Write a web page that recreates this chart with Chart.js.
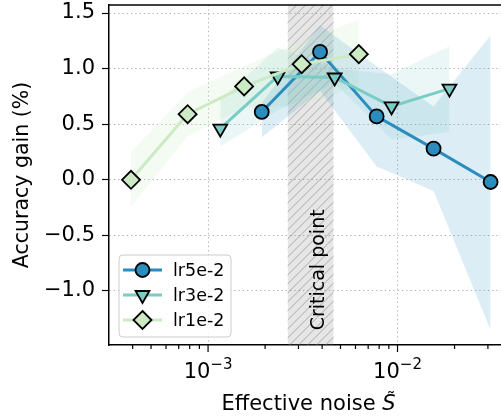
<!DOCTYPE html>
<html>
<head>
<meta charset="utf-8">
<script src="https://cdn.jsdelivr.net/npm/chart.js@4.4.1/dist/chart.umd.min.js"></script>
<style>
  html, body { margin: 0; padding: 0; background: #fff; overflow: hidden; }
  #wrap { width: 501px; height: 417px; overflow: hidden; }
  canvas { display: block; }
</style>
</head>
<body>
<div id="wrap"><canvas id="chart" width="512" height="417"></canvas></div>
<script>
// runs, in legend order
const seriesNames = ["lr5e-2", "lr3e-2", "lr1e-2"];

const noise5 = [1.92e-3, 3.9e-3, 7.76e-3, 1.55e-2, 3.1e-2];
const gain5 = [0.61, 1.15, 0.57, 0.28, -0.02];
const upper5 = [0.69, 1.39, 1.02, 0.66, 1.30];
const lower5 = [0.38, 0.80, 0.12, -0.10, -1.35];

const noise3 = [1.16e-3, 2.33e-3, 4.66e-3, 9.3e-3, 1.88e-2];
const gain3 = [0.46, 0.93, 0.92, 0.66, 0.82];
const upper3 = [0.72, 1.19, 1.00, 0.95, 1.20];
const lower3 = [0.30, 0.62, 0.87, 0.36, 0.43];

const noise1 = [3.92e-4, 7.8e-4, 1.55e-3, 3.12e-3, 6.25e-3];
const gain1 = [0.0, 0.59, 0.84, 1.04, 1.13];
const upper1 = [0.25, 0.79, 1.02, 1.25, 1.44];
const lower1 = [-0.24, 0.39, 0.65, 0.67, 0.85];

// shaded "critical point" interval on the noise axis
const criticalRange = [2.63e-3, 4.6e-3];

const xRange = [3.12e-4, 3.83e-2];
const yRange = [-1.486, 1.572];
const yTicks = [-1.0, -0.5, 0.0, 0.5, 1.0, 1.5];
const xMajorTicks = [1e-3, 1e-2];

const colors = ["#2b8cbe", "#7bccc4", "#ccebc5"];
const bandColors = ["rgba(43,140,190,0.16)", "rgba(123,204,196,0.16)", "rgba(204,235,197,0.22)"];
const markers = [
  { style: "circle", radius: 7, rotation: 0 },
  { style: "triangle", radius: 8, rotation: 180 },
  { style: "rectRot", radius: 9, rotation: 0 },
];

const FONT = '"DejaVu Sans", sans-serif';
const GRID_DASH = [1.3, 3];

function pts(xs, ys) {
  return xs.map((x, i) => ({ x: x, y: ys[i] }));
}

function minorTicks() {
  const out = [];
  for (let e = -4; e <= -2; e++) {
    for (let m = 2; m <= 9; m++) {
      const v = m * Math.pow(10, e);
      if (v >= xRange[0] && v <= xRange[1]) out.push(v);
    }
  }
  return out;
}

function isMajor(v) {
  return xMajorTicks.some(t => Math.abs(v - t) / t < 1e-6);
}

const noises = [noise5, noise3, noise1];
const gains = [gain5, gain3, gain1];
const uppers = [upper5, upper3, upper1];
const lowers = [lower5, lower3, lower1];

const datasets = [];
// lines: lr1e-2 on top, lr5e-2 at the bottom
for (let i = 0; i < 3; i++) {
  const m = markers[i];
  datasets.push({
    label: seriesNames[i],
    data: pts(noises[i], gains[i]),
    borderColor: colors[i],
    borderWidth: 3,
    backgroundColor: colors[i],
    pointStyle: m.style,
    pointRadius: m.radius,
    pointRotation: m.rotation,
    pointBackgroundColor: colors[i],
    pointBorderColor: "#000",
    pointBorderWidth: 1.8,
    fill: false,
    tension: 0,
    order: 2 - i,
  });
}
// spread bands
for (let i = 0; i < 3; i++) {
  const lowIndex = datasets.length + 1;
  datasets.push({
    data: pts(noises[i], uppers[i]),
    borderWidth: 0,
    pointRadius: 0,
    backgroundColor: bandColors[i],
    fill: lowIndex,
    order: 10 + i,
  });
  datasets.push({
    data: pts(noises[i], lowers[i]),
    borderWidth: 0,
    pointRadius: 0,
    fill: false,
    order: 10 + i,
  });
}

function drawMarker(ctx, m, color, x, y) {
  ctx.save();
  ctx.fillStyle = color;
  ctx.strokeStyle = "#000";
  ctx.lineWidth = 1.8;
  ctx.beginPath();
  const r = m.radius;
  if (m.style === "circle") {
    ctx.arc(x, y, r, 0, Math.PI * 2);
  } else if (m.style === "triangle") {
    const h = r * Math.sqrt(3) / 2;
    ctx.moveTo(x, y + r);
    ctx.lineTo(x - h, y - r / 2);
    ctx.lineTo(x + h, y - r / 2);
  } else {
    ctx.moveTo(x, y - r);
    ctx.lineTo(x + r, y);
    ctx.lineTo(x, y + r);
    ctx.lineTo(x - r, y);
  }
  ctx.closePath();
  ctx.fill();
  ctx.stroke();
  ctx.restore();
}

const decorations = {
  id: "decorations",
  beforeDatasetsDraw(chart) {
    const { ctx, chartArea: a, scales: { x, y } } = chart;
    const x0 = x.getPixelForValue(criticalRange[0]);
    const x1 = x.getPixelForValue(criticalRange[1]);
    const h = a.bottom - a.top;
    ctx.save();
    ctx.beginPath();
    ctx.rect(x0, a.top, x1 - x0, h);
    ctx.clip();
    ctx.fillStyle = "rgba(128,128,128,0.2)";
    ctx.fillRect(x0, a.top, x1 - x0, h);
    ctx.strokeStyle = "rgba(120,120,120,0.55)";
    ctx.lineWidth = 1;
    ctx.beginPath();
    for (let s = x0 - h; s < x1; s += 9) {
      ctx.moveTo(s, a.bottom);
      ctx.lineTo(s + h, a.top);
    }
    ctx.stroke();
    ctx.restore();

    ctx.save();
    ctx.translate(x1 - 10, y.getPixelForValue(-0.81));
    ctx.rotate(-Math.PI / 2);
    ctx.font = "19px " + FONT;
    ctx.fillStyle = "#000";
    ctx.textAlign = "center";
    ctx.textBaseline = "alphabetic";
    ctx.fillText("Critical point", 0, 0);
    ctx.restore();
  },
  afterDraw(chart) {
    const { ctx, chartArea: a, scales: { x } } = chart;
    ctx.save();
    // top spine
    ctx.strokeStyle = "#000";
    ctx.lineWidth = 1.5;
    ctx.beginPath();
    ctx.moveTo(a.left - 0.75, a.top);
    ctx.lineTo(chart.width, a.top);
    ctx.stroke();

    // x tick marks and labels
    ctx.lineWidth = 1.2;
    x.ticks.forEach(t => {
      const px = x.getPixelForValue(t.value);
      const len = isMajor(t.value) ? 7 : 4;
      ctx.beginPath();
      ctx.moveTo(px, a.bottom);
      ctx.lineTo(px, a.bottom + len);
      ctx.stroke();
    });
    ctx.fillStyle = "#000";
    ctx.textAlign = "left";
    ctx.textBaseline = "alphabetic";
    xMajorTicks.forEach(v => {
      const px = x.getPixelForValue(v);
      const exp = Math.round(Math.log10(v));
      const base = "10";
      const sup = (exp < 0 ? "\u2212" : "") + Math.abs(exp);
      ctx.font = "21px " + FONT;
      const wb = ctx.measureText(base).width;
      ctx.font = "15px " + FONT;
      const ws = ctx.measureText(sup).width;
      const start = px - (wb + ws) / 2;
      ctx.font = "21px " + FONT;
      ctx.fillText(base, start, a.bottom + 33);
      ctx.font = "15px " + FONT;
      ctx.fillText(sup, start + wb, a.bottom + 24);
    });

    // axis titles
    ctx.font = "21px " + FONT;
    const t1 = "Effective noise ";
    const w1 = ctx.measureText(t1).width;
    ctx.font = "italic 21px " + FONT;
    const wS = ctx.measureText("S").width;
    const cx = (a.left + a.right) / 2;
    const sx = cx - (w1 + wS) / 2;
    const base = a.bottom + 65;
    ctx.font = "21px " + FONT;
    ctx.fillText(t1, sx, base);
    ctx.font = "italic 21px " + FONT;
    ctx.fillText("S", sx + w1, base);
    ctx.font = "18px " + FONT;
    ctx.textAlign = "center";
    ctx.fillText("\u02DC", sx + w1 + wS / 2 + 2, base - 5);

    ctx.save();
    ctx.translate(28, (a.top + a.bottom) / 2);
    ctx.rotate(-Math.PI / 2);
    ctx.font = "20.5px " + FONT;
    ctx.textAlign = "center";
    ctx.fillText("Accuracy gain (%)", 0, 0);
    ctx.restore();

    // legend
    const bx = a.left + 10, bw = 112, bh = 82, by = a.bottom - 8 - bh;
    ctx.beginPath();
    ctx.roundRect(bx, by, bw, bh, 4);
    ctx.fillStyle = "rgba(255,255,255,0.8)";
    ctx.fill();
    ctx.strokeStyle = "#cccccc";
    ctx.lineWidth = 1;
    ctx.stroke();
    seriesNames.forEach((name, i) => {
      const ry = by + 15 + i * 25;
      ctx.strokeStyle = colors[i];
      ctx.lineWidth = 3;
      ctx.beginPath();
      ctx.moveTo(bx + 4, ry);
      ctx.lineTo(bx + 43, ry);
      ctx.stroke();
      drawMarker(ctx, markers[i], colors[i], bx + 23.5, ry);
      ctx.fillStyle = "#000";
      ctx.font = "17.5px " + FONT;
      ctx.textAlign = "left";
      ctx.textBaseline = "middle";
      ctx.fillText(name, bx + 54, ry + 1);
    });
    ctx.restore();
  },
};

new Chart(document.getElementById("chart"), {
  type: "line",
  data: { datasets: datasets },
  options: {
    responsive: false,
    devicePixelRatio: 1,
    animation: false,
    layout: { autoPadding: false, padding: { top: 5, right: 4, left: 0, bottom: 0 } },
    plugins: { legend: { display: false }, tooltip: { enabled: false } },
    scales: {
      x: {
        type: "logarithmic",
        min: xRange[0],
        max: xRange[1],
        afterBuildTicks: s => {
          s.ticks = xMajorTicks.concat(minorTicks()).sort((p, q) => p - q).map(v => ({ value: v }));
        },
        afterFit: s => {
          s.height = 72;
          s.paddingLeft = 0;
          s.paddingRight = 0;
        },
        ticks: { display: false },
        grid: {
          drawTicks: false,
          lineWidth: 1,
          color: c => (c.tick && isMajor(c.tick.value) ? "#b0b0b0" : "rgba(0,0,0,0)"),
        },
        border: { display: true, color: "#000", width: 1.5, dash: GRID_DASH },
      },
      y: {
        type: "linear",
        min: yRange[0],
        max: yRange[1],
        afterBuildTicks: s => {
          s.ticks = yTicks.map(v => ({ value: v }));
        },
        afterFit: s => {
          s.width = 109;
          s.paddingTop = 0;
          s.paddingBottom = 0;
        },
        ticks: {
          color: "#000",
          font: { family: FONT, size: 21 },
          padding: 7,
          callback: v => (v < 0 ? "\u2212" : "") + Math.abs(v).toFixed(1),
        },
        grid: {
          color: "#b0b0b0",
          lineWidth: 1,
          drawTicks: true,
          tickLength: 7,
          tickColor: "#000",
          tickWidth: 1.2,
        },
        border: { display: true, color: "#000", width: 1.5, dash: GRID_DASH },
      },
    },
  },
  plugins: [decorations],
});
</script>
</body>
</html>
